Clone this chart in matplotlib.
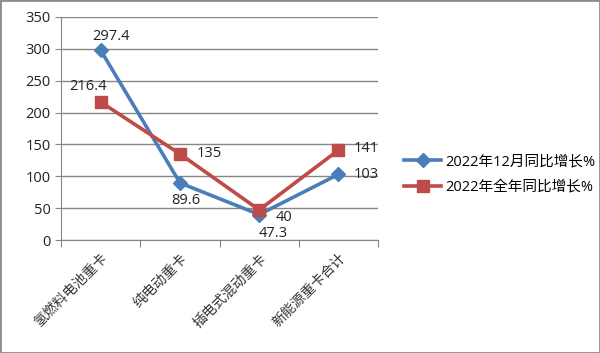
import matplotlib

matplotlib.use("Agg")
import matplotlib.pyplot as plt
from matplotlib.patches import Rectangle

plt.rcParams["font.family"] = ["Open Sans", "Noto Sans CJK SC", "DejaVu Sans"]

categories = ["氢燃料电池重卡", "纯电动重卡", "插电式混动重卡", "新能源重卡合计"]
dec_growth = [297.4, 89.6, 40, 103]
year_growth = [216.4, 135, 47.3, 141]
series_names = ["2022年12月同比增长%", "2022年全年同比增长%"]

BLUE = "#4A7EBB"
RED = "#BE4B48"

fig = plt.figure(figsize=(6.0, 3.53), dpi=100)
ax = fig.add_axes([0.102, 0.32, 0.528, 0.632])

x = list(range(len(categories)))
ax.plot(x, dec_growth, color=BLUE, lw=2.6, marker="D", ms=7, label=series_names[0], zorder=3)
ax.plot(x, year_growth, color=RED, lw=2.6, marker="s", ms=9, label=series_names[1], zorder=3)

# label offsets in points, as placed in the original
dec_offsets = [(7, 10), (4, -13), (18, -2), (20, 0)]
year_offsets = [(-9, 11), (21, 0), (10, -17), (20, 1)]
for xi, v, off in zip(x, dec_growth, dec_offsets):
    ax.annotate(f"{v:g}", (xi, v), xytext=off, textcoords="offset points",
                ha="center", va="center", fontsize=10.5, color="#222222")
for xi, v, off in zip(x, year_growth, year_offsets):
    ax.annotate(f"{v:g}", (xi, v), xytext=off, textcoords="offset points",
                ha="center", va="center", fontsize=10.5, color="#222222")

ax.set_xlim(-0.5, len(categories) - 0.5)
ax.set_ylim(0, 350)
ax.set_yticks(range(0, 351, 50))
ax.set_xticks([i - 0.5 for i in range(len(categories) + 1)])
ax.set_xticklabels([])
ax.set_xticks(x, minor=True)
ax.set_xticklabels(categories, minor=True, rotation=45, ha="right", va="top",
                   rotation_mode="anchor", fontsize=10, color="#333333")
ax.tick_params(axis="x", which="minor", length=0, pad=8)
ax.tick_params(axis="x", which="major", length=5, color="#868686")
ax.tick_params(axis="y", length=4, color="#868686", labelsize=10.5, labelcolor="#222222")
ax.grid(axis="y", color="#868686", lw=1)
ax.set_axisbelow(True)
for side in ["top", "right"]:
    ax.spines[side].set_visible(False)
for side in ["left", "bottom"]:
    ax.spines[side].set_color("#868686")

fig.legend(loc="center left", bbox_to_anchor=(0.652, 0.505), frameon=False,
           fontsize=10.5, handlelength=2.5, handletextpad=0.3, labelspacing=0.75)

fig.patches.append(Rectangle((0, 0), 1, 1, transform=fig.transFigure, fill=False,
                             edgecolor="#8c8c8c", lw=2))

fig.savefig("out.png", dpi=100)
